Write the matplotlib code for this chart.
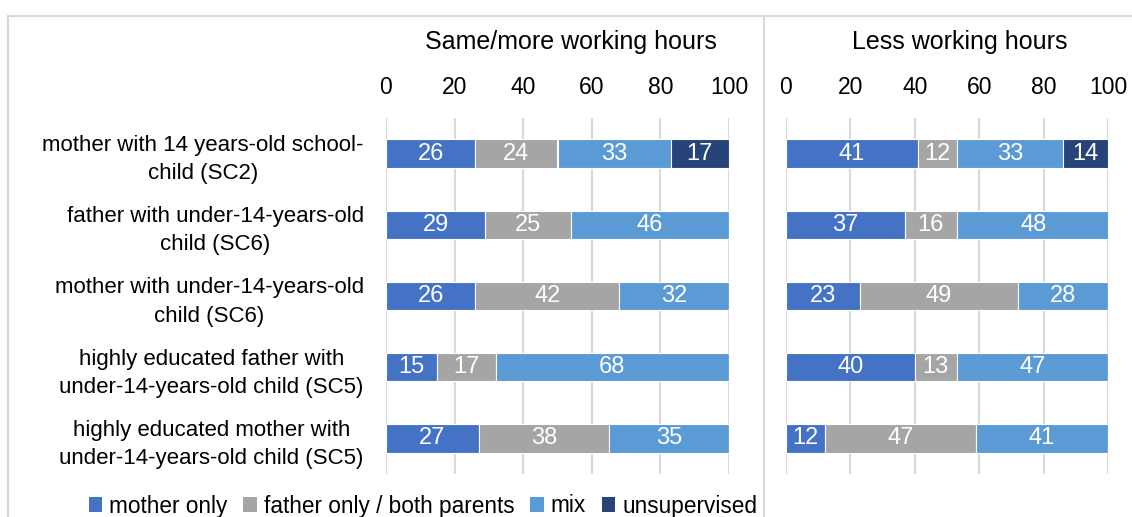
import numpy as np
import matplotlib
matplotlib.use("Agg")
import matplotlib.pyplot as plt
from matplotlib.patches import Patch
from matplotlib.lines import Line2D

plt.rcParams['font.family'] = ['Liberation Sans Narrow', 'Liberation Sans', 'DejaVu Sans']

# data
categories = [
    "mother with 14 years-old school-\nchild (SC2)",
    "father with under-14-years-old\nchild (SC6)",
    "mother with under-14-years-old\nchild (SC6)",
    "highly educated father with\nunder-14-years-old child (SC5)",
    "highly educated mother with\nunder-14-years-old child (SC5)",
]
series_names = ["mother only", "father only / both parents", "mix", "unsupervised"]
colors = ["#4472C4", "#A5A5A5", "#5B9BD5", "#264478"]

same_mother = [26, 29, 26, 15, 27]
same_father = [24, 25, 42, 17, 38]
same_mix = [33, 46, 32, 68, 35]
same_unsup = [17, 0, 0, 0, 0]

less_mother = [41, 37, 23, 40, 12]
less_father = [12, 16, 49, 13, 47]
less_mix = [33, 48, 28, 47, 41]
less_unsup = [14, 0, 0, 0, 0]

panel_titles = ["Same/more working hours", "Less working hours"]
xticks = [0, 20, 40, 60, 80, 100]

W, H = 1132, 517
fig = plt.figure(figsize=(W / 100, H / 100), dpi=100)

ax_l = fig.add_axes([386 / W, 1 - 474 / H, (729 - 386) / W, (474 - 118) / H])
ax_r = fig.add_axes([786 / W, 1 - 474 / H, (1108 - 786) / W, (474 - 118) / H])

y = np.arange(len(categories))

def draw_panel(ax, data, title):
    left = np.zeros(len(categories))
    for vals, col in zip(data, colors):
        vals = np.array(vals, dtype=float)
        bars = ax.barh(y, vals, left=left, height=0.4, color=col,
                       edgecolor="white", linewidth=0.8, zorder=3)
        for b, v in zip(bars, vals):
            if v > 0:
                ax.text(b.get_x() + b.get_width() / 2, b.get_y() + b.get_height() / 2,
                        f"{int(v)}", ha="center", va="center", color="white",
                        fontsize=17, zorder=4)
        left += vals
    ax.set_xlim(0, 100)
    ax.set_ylim(len(categories) - 0.5, -0.5)
    ax.set_xticks(xticks)
    ax.xaxis.tick_top()
    ax.tick_params(axis="x", length=0, labelsize=16.5, pad=14)
    ax.tick_params(axis="y", length=0)
    ax.grid(axis="x", color="#D9D9D9", linewidth=1.5, zorder=0)
    for s in ax.spines.values():
        s.set_visible(False)
    ax.set_title(title, fontsize=18, pad=19, x=0.54)

draw_panel(ax_l, [same_mother, same_father, same_mix, same_unsup], panel_titles[0])
draw_panel(ax_r, [less_mother, less_father, less_mix, less_unsup], panel_titles[1])

ax_l.set_yticks(y)
ax_l.set_yticklabels(categories, fontsize=16, multialignment="center", linespacing=1.45)
ax_l.tick_params(axis="y", pad=16)
ax_r.set_yticks([])

# chart border and separator
border = "#D9D9D9"
fig.add_artist(Line2D([8 / W, 1], [1 - 16 / H, 1 - 16 / H], color=border, lw=1.5))
fig.add_artist(Line2D([8 / W, 8 / W], [0, 1 - 16 / H], color=border, lw=1.5))
fig.add_artist(Line2D([764 / W, 764 / W], [0, 1 - 16 / H], color=border, lw=1.5))

handles = [Patch(facecolor=c, edgecolor="none") for c in colors]
fig.legend(handles, series_names, loc="center", bbox_to_anchor=(423 / W, 1 - 506 / H),
           ncol=4, frameon=False, fontsize=16.3, handlelength=0.6, handleheight=0.6,
           handletextpad=0.3, columnspacing=0.7, borderaxespad=0, borderpad=0)

fig.savefig("out.png", dpi=100)
